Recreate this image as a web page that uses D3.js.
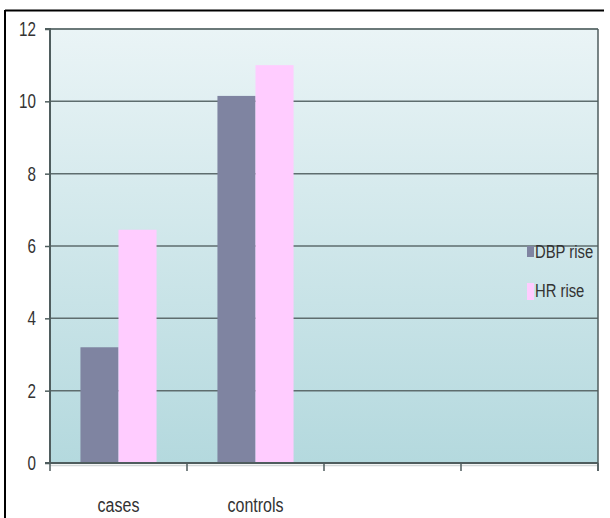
<!DOCTYPE html>
<html>
<head>
<meta charset="utf-8">
<script src="https://cdn.jsdelivr.net/npm/d3@7"></script>
<style>
  html, body { margin: 0; padding: 0; background: #fff; }
  svg { display: block; }
  text { font-family: "Liberation Sans", Arial, sans-serif; fill: #333; }
</style>
</head>
<body>
<svg id="chart" width="610" height="518"></svg>
<script>
// ---- data ----
const categories = ["cases", "controls", "", ""];
const seriesNames = ["DBP rise", "HR rise"];
const dbpRise = [3.2, 10.15, null, null];
const hrRise = [6.45, 11.0, null, null];
const yTicks = [0, 2, 4, 6, 8, 10, 12];
const seriesColors = ["#7f84a1", "#ffccff"];

const svg = d3.select("#chart");
const W = 610, H = 518;
const pLeft = 50, pRight = 598, pTop = 29, pBottom = 463;
const SX = 0.76; // horizontal condensing of the narrow font

// frame (black border top & left)
svg.append("line").attr("x1", 5).attr("x2", 604).attr("y1", 10.5).attr("y2", 10.5)
  .attr("stroke", "#000").attr("stroke-width", 2);
svg.append("line").attr("x1", 5).attr("x2", 5).attr("y1", 10).attr("y2", H)
  .attr("stroke", "#000").attr("stroke-width", 2);

const slots = d3.range(categories.length);
const x0 = d3.scaleBand().domain(slots).range([pLeft, pRight]).padding(0);
const x1 = d3.scaleBand().domain(seriesNames).range([0, x0.bandwidth()]).paddingInner(0).paddingOuter(0.8);
const y = d3.scaleLinear().domain([0, 12]).range([pBottom, pTop]);

// gradient background
const defs = svg.append("defs");
const grad = defs.append("linearGradient").attr("id", "bg").attr("x1", 0).attr("y1", 0).attr("x2", 0).attr("y2", 1);
grad.append("stop").attr("offset", "0%").attr("stop-color", "#eaf4f6");
grad.append("stop").attr("offset", "100%").attr("stop-color", "#b4d9de");

svg.append("rect").attr("x", pLeft).attr("y", pTop).attr("width", pRight - pLeft).attr("height", pBottom - pTop)
  .attr("fill", "url(#bg)");

// shadow under baseline
svg.append("line").attr("x1", pLeft).attr("x2", pRight).attr("y1", pBottom + 2.5).attr("y2", pBottom + 2.5)
  .attr("stroke", "#d3d8d8").attr("stroke-width", 1.5);

// gridlines
svg.append("g").selectAll("line").data(yTicks.filter(d => d > 0 && d < 12)).join("line")
  .attr("x1", pLeft).attr("x2", pRight)
  .attr("y1", d => y(d)).attr("y2", d => y(d))
  .attr("stroke", "#5e6d6e").attr("stroke-width", 1.5);

// top & right border of plot
svg.append("line").attr("x1", pLeft).attr("x2", pRight).attr("y1", y(12)).attr("y2", y(12))
  .attr("stroke", "#6a7878").attr("stroke-width", 2);
svg.append("line").attr("x1", pRight).attr("x2", pRight).attr("y1", y(12)).attr("y2", pBottom + 8)
  .attr("stroke", "#4f5d5e").attr("stroke-width", 1.5);

// bars
const seriesData = [dbpRise, hrRise];
const bars = svg.append("g");
seriesNames.forEach((s, si) => {
  bars.selectAll(null).data(slots.filter(i => seriesData[si][i] != null)).join("rect")
    .attr("x", i => x0(i) + x1(s))
    .attr("width", x1.bandwidth())
    .attr("y", i => y(seriesData[si][i]))
    .attr("height", i => y(0) - y(seriesData[si][i]))
    .attr("fill", seriesColors[si]);
});

// y axis
const yAxis = d3.axisLeft(y).tickValues(yTicks).tickSize(5).tickPadding(9).tickFormat(d3.format("d"));
const gy = svg.append("g").attr("transform", `translate(${pLeft},0)`).call(yAxis);
gy.attr("font-family", null).attr("font-size", null);
gy.select(".domain").attr("stroke", "#4f5d5e").attr("stroke-width", 2).attr("d", `M-5,${pTop}H0V${pBottom}`);
gy.selectAll(".tick line").attr("stroke", "#4f5d5e").attr("stroke-width", 1.5);
gy.selectAll(".tick text")
  .attr("x", 0)
  .attr("transform", `translate(-14,0) scale(${SX},1)`)
  .style("font-size", "20px").attr("fill", "#333").attr("dy", "0.33em");

// x axis
svg.append("line").attr("x1", pLeft - 5).attr("x2", pRight).attr("y1", pBottom).attr("y2", pBottom)
  .attr("stroke", "#4f5d5e").attr("stroke-width", 2);
const xTickPos = slots.map(i => x0(i)).concat([x0.range()[1]]);
svg.append("g").selectAll("line").data(xTickPos).join("line")
  .attr("x1", d => d).attr("x2", d => d).attr("y1", pBottom).attr("y2", pBottom + 8)
  .attr("stroke", "#4f5d5e").attr("stroke-width", 1.5);
svg.append("g").selectAll("text").data(slots.filter(i => categories[i])).join("text")
  .attr("transform", i => `translate(${x0(i) + x0.bandwidth() / 2},512) scale(${SX + 0.04},1)`)
  .attr("text-anchor", "middle")
  .style("font-size", "20px")
  .text(i => categories[i]);

// legend
const lg = svg.append("g");
const legendY = [251, 290];
seriesNames.forEach((s, si) => {
  lg.append("rect").attr("x", 527).attr("y", legendY[si] - (si === 0 ? 5 : 7))
    .attr("width", 7).attr("height", si === 0 ? 11 : 17).attr("fill", seriesColors[si]);
  lg.append("text")
    .attr("transform", `translate(535,${legendY[si]}) scale(${SX + 0.02},1)`)
    .attr("dy", "0.35em")
    .style("font-size", "19px").text(s);
});
</script>
</body>
</html>
